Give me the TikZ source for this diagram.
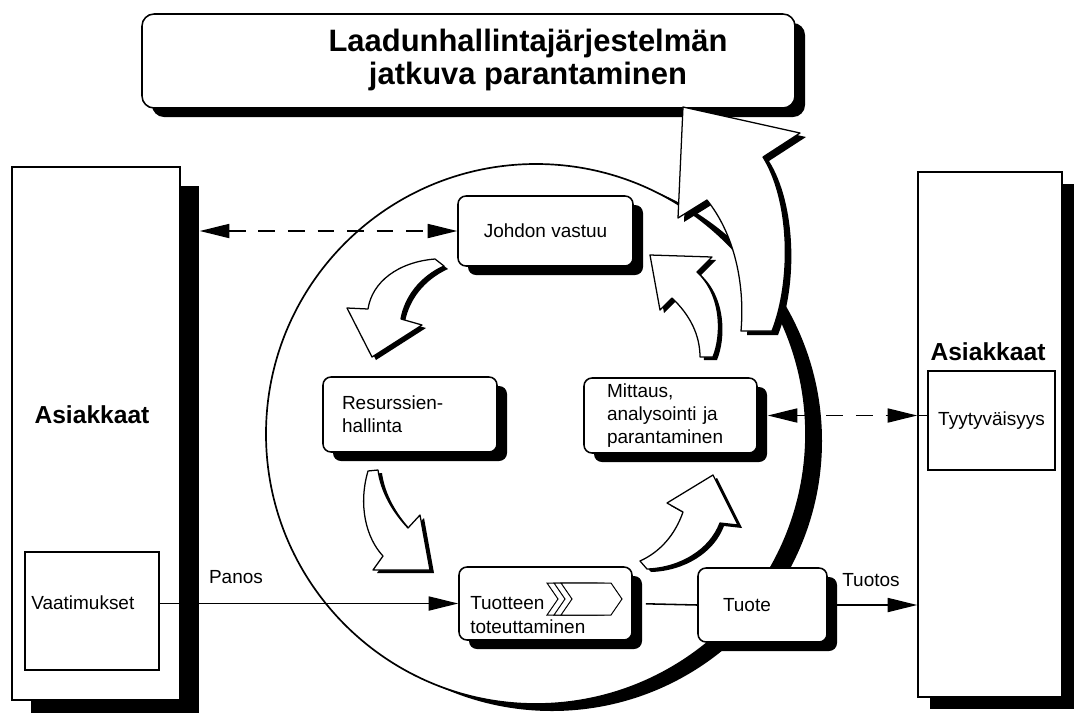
\documentclass[tikz,border=0pt]{standalone}
\usepackage{fontspec}
\setmainfont{Liberation Sans}
\usetikzlibrary{arrows.meta,shadows}

\newcommand{\px}{0.025cm}
% curved block arrow: black shadow, then white shape
\newcommand{\flowarrow}[2][4,3]{%
	\fill[black, shift={(#1)}] #2;
	\filldraw[fill=white, line width=0.9pt, line join=round] #2;}

\tikzset{
	procbox/.style={draw, fill=white, line width=1.1pt, rounded corners=8*\px,
		drop shadow={shadow xshift=10*\px, shadow yshift=-9*\px, fill=black, opacity=1}},
	custbox/.style={draw, fill=white, line width=1.1pt,
		drop shadow={shadow xshift=#1*\px, shadow yshift=-#1*\px, fill=black, opacity=1}},
	plainbox/.style={draw, fill=white, line width=1.1pt},
	bold/.style={font=\fontsize{17.5}{20}\selectfont\bfseries},
	titletext/.style={font=\fontsize{22}{23.5}\selectfont\bfseries, align=center},
	link/.style={line width=1.1pt, -{Triangle[length=21pt,width=10pt]}},
	dlink/.style={line width=1.1pt, dash pattern=on 12pt off 9pt,
		{Triangle[length=21pt,width=10pt]}-{Triangle[length=21pt,width=10pt]}}
}

\begin{document}
\begin{tikzpicture}[x=\px, y=-\px, font=\fontsize{13.5}{16.5}\selectfont]
	\path[use as bounding box, clip] (0,0) rectangle (1074,712);
	%circle
	\fill[black] (552,441) circle [radius=270];
	\draw[line width=1.2pt, fill=white] (536,434) circle [radius=270];
	
	%title
	\node[procbox, minimum width=653*\px, minimum height=94*\px, rounded corners=12*\px] (title) at (468.5,61) {};
	\node[titletext] (titletxt) at (528,60) {Laadunhallintajärjestelmän\\jatkuva parantaminen};
	
	%customers
	\node[custbox=19, minimum width=168*\px, minimum height=533*\px] (lbox) at (96,433.5) {};
	\node[custbox=12, minimum width=144*\px, minimum height=525*\px] (rbox) at (990,434.5) {};
	\node[bold] (lcust) at (92,415) {Asiakkaat};
	\node[bold] (rcust) at (988,352) {Asiakkaat};
	\node[plainbox, minimum width=134*\px, minimum height=118*\px] (vaat) at (92,611) {};
	\node[anchor=west, inner sep=0pt] (vaattxt) at (31,603) {Vaatimukset};
	\node[plainbox, minimum width=127*\px, minimum height=99*\px] (tyyty) at (991.5,420.5) {Tyytyväisyys};
	
	%processes
	\node[procbox, minimum width=175*\px, minimum height=70*\px] (johdon) at (545.5,231) {Johdon vastuu};
	\node[procbox, align=left, text width=136*\px, inner xsep=19*\px, minimum height=75*\px] (resurssit) at (410,414.5) {Resurssien-\\hallinta};
	\node[procbox, align=left, text width=127*\px, inner xsep=23*\px, minimum height=75*\px] (mittaus) at (670.5,415.5) {Mittaus,\\analysointi ja\\parantaminen};
	\node[procbox, minimum width=173*\px, minimum height=73*\px] (tuotteen) at (545.5,603.5) {};
	\foreach \cx in {547,554,561}
	\draw[fill=white, line width=0.7pt] (\cx,583) -- ++(50,0) -- ++(11,16) -- ++(-11,16) -- ++(-50,0) -- ++(11,-16) -- cycle;
	\node[anchor=west, align=left, inner sep=0pt] (tuotteentxt) at (470,615) {Tuotteen\\toteuttaminen};
	\node[procbox, align=left, text width=79*\px, inner xsep=25*\px, minimum height=74*\px] (tuote) at (762.5,605) {Tuote};
	
	%flows
	\node (panos) at (236,577) {Panos};
	\node (tuotos) at (871,580) {Tuotos};
	\draw[link] (vaat.east |- tuotteen.west) -- (tuotteen.west);
	\draw[line width=1.1pt, shorten <=13*\px] (tuotteen.east) -- (tuote.west);
	\draw[link, shorten <=9*\px] (tuote.east) -- (tuote.east -| rbox.west);
	\coordinate (lshade) at ([xshift=19*\px]lbox.east);
	\draw[dlink] (lshade |- johdon.west) -- (johdon.west);
	\coordinate (mshade) at ([xshift=10*\px]mittaus.east);
	\draw[dlink] (mshade) -- (mshade -| rbox.west);
	\draw[line width=1.1pt] (mshade -| rbox.west) -- (mshade -| tyyty.west);
	
	%cycle arrows
	\flowarrow{(435,259) .. controls (398,262) and (372,282) .. (368,309) -- (347,308) -- (372,357) -- (422,325) -- (401,319) .. controls (405,297) and (420,277) .. (444,266) -- cycle}
	\flowarrow{(368,471) .. controls (358,505) and (366,538) .. (383,556) -- (373,570) -- (430,570) -- (420,515) -- (408,528) .. controls (393,512) and (381,492) .. (378,470) -- cycle}
	\flowarrow{(647,569) .. controls (680,568) and (710,550) .. (720,523) -- (738,525) -- (713,475) -- (667,503) -- (683,512) .. controls (675,535) and (660,552) .. (640,561) -- cycle}
	\flowarrow{(713,357) .. controls (722,335) and (722,295) .. (697,272) -- (712,257) -- (650,255) -- (660,310) -- (672,298) .. controls (690,315) and (700,335) .. (700,357) -- cycle}
	\flowarrow[6,4]{(772,331) .. controls (792,280) and (790,200) .. (763,157) -- (800,133) -- (683,107) -- (678,218) -- (707,200) .. controls (735,235) and (745,285) .. (741,331) -- cycle}
\end{tikzpicture}
\end{document}
